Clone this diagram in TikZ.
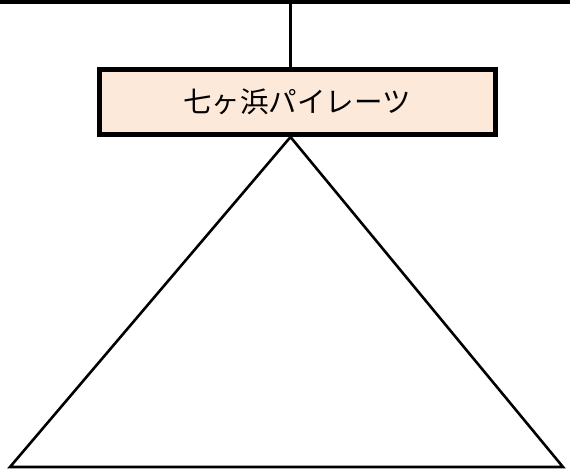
\documentclass[tikz,border=0pt]{standalone}
\usepackage{fontspec}
\newfontfamily\cjk{Noto Sans CJK JP}
\definecolor{peach}{RGB}{252,233,218}
\begin{document}
\begin{tikzpicture}[x=1pt,y=-1pt,
  teambox/.style={draw=black,line width=5pt,fill=peach,minimum width=396pt,minimum height=65pt,inner sep=0pt,font=\cjk\fontsize{28.5}{32}\selectfont},
  link/.style={line width=2.6pt,black}]
\useasboundingbox (0,0) rectangle (570,471);
\coordinate (tl) at (0,2);
\coordinate (tr) at (570,2);
\coordinate (tm) at (290.5,2);
\draw[line width=4pt] (tl) -- (tr);
\node[teambox] (team) at (297,101.5) {七ヶ浜パイレーツ};
\coordinate (apex) at (290.5,137);
\coordinate (bl) at (10,467);
\coordinate (br) at (563,467);
\draw[link] (tm) -- (team.north -| tm);
\draw[link,line join=miter] (bl) -- (apex) -- (br) -- cycle;
\end{tikzpicture}
\end{document}
